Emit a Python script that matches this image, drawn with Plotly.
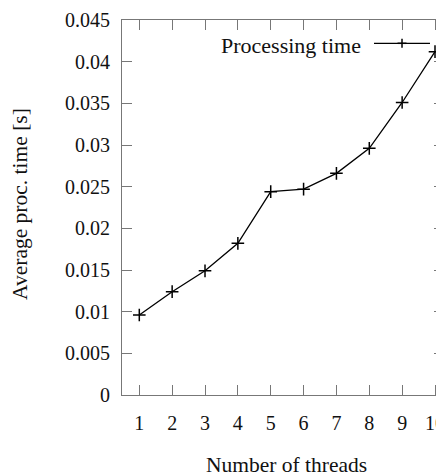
import plotly.graph_objects as go

# ---- data ----
threads = [1, 2, 3, 4, 5, 6, 7, 8, 9, 10]
proc_time = [0.0096, 0.0124, 0.0149, 0.0182, 0.0244, 0.0247, 0.0266, 0.0296, 0.0351, 0.0412]
series_name = "Processing time"
y_tick_vals = [0, 0.005, 0.01, 0.015, 0.02, 0.025, 0.03, 0.035, 0.04, 0.045]
y_tick_text = ["0", "0.005", "0.01", "0.015", "0.02", "0.025", "0.03", "0.035", "0.04", "0.045"]
x_tick_vals = threads
x_tick_text = [str(t) for t in threads]
x_title = "Number of threads"
y_title = "Average proc. time [s]"

FONT = "Liberation Serif"
AX = "#777777"

fig = go.Figure()
fig.add_trace(go.Scatter(
    x=threads, y=proc_time, mode="lines+markers", name=series_name,
    line=dict(color="black", width=1.3),
    marker=dict(symbol="cross-thin", size=9, color="black",
                line=dict(color="black", width=1.5)),
    showlegend=False,
))

axis_common = dict(
    showline=True, linecolor=AX, linewidth=1, mirror="ticks",
    ticks="inside", ticklen=10, tickcolor=AX, tickwidth=1,
    showgrid=False, zeroline=False,
    tickfont=dict(family=FONT, size=20, color="#111111"),
)

fig.update_xaxes(range=[0.4735, 10.274], tickvals=x_tick_vals, ticktext=x_tick_text,
                 ticklabelstandoff=10, ticklabeloverflow="allow", **axis_common)
fig.update_yaxes(range=[0, 0.045], tickvals=y_tick_vals, ticktext=y_tick_text,
                 ticklabelstandoff=7, **axis_common)

# custom legend (text on the left, key on the right)
ly = 0.9379
lx0, lx1, lxc = 0.7826, 0.9565, 0.8696
fig.add_shape(type="line", xref="paper", yref="paper", x0=lx0, x1=lx1, y0=ly, y1=ly,
              line=dict(color="black", width=1.3))
fig.add_shape(type="line", xref="paper", yref="paper", xsizemode="pixel", ysizemode="pixel",
              xanchor=lxc, yanchor=ly, x0=-4.5, x1=4.5, y0=0, y1=0,
              line=dict(color="black", width=1.5))
fig.add_shape(type="line", xref="paper", yref="paper", xsizemode="pixel", ysizemode="pixel",
              xanchor=lxc, yanchor=ly, x0=0, x1=0, y0=-4.5, y1=4.5,
              line=dict(color="black", width=1.5))

fig.add_annotation(text=series_name, xref="paper", yref="paper", x=0.7484, y=0.9333,
                   xanchor="right", yanchor="middle", showarrow=False,
                   font=dict(family=FONT, size=22, color="#111111"))
fig.add_annotation(text=x_title, xref="paper", yref="paper", x=0.5109, y=-0.1859,
                   xanchor="center", yanchor="middle", showarrow=False,
                   font=dict(family=FONT, size=21.5, color="#111111"))
fig.add_annotation(text=y_title, xref="paper", yref="paper", x=-0.3168, y=0.5093,
                   xanchor="center", yanchor="middle", showarrow=False, textangle=-90,
                   font=dict(family=FONT, size=21.5, color="#111111"))

# page body has an 8px margin: shrink the figure so the plot lands where the reference has it
fig.update_layout(
    width=436, height=465,
    margin=dict(l=114, r=0, t=12, b=78, pad=0),
    paper_bgcolor="white", plot_bgcolor="white",
    showlegend=False,
)

fig.write_html("out.html")
